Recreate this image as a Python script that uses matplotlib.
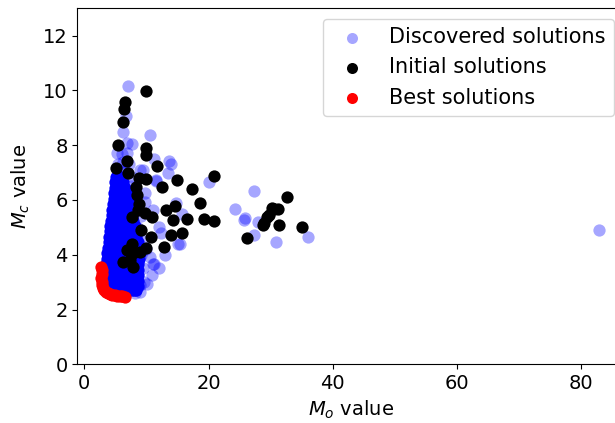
import numpy as np
import matplotlib
matplotlib.use("Agg")
import matplotlib.pyplot as plt

# ---- Discovered solutions: dense core, typed row by row (y value, x values) ----
core_rows = [
    (6.85, [5.1, 5.5, 5.9]),
    (6.65, [5.0, 5.4, 5.8, 6.2]),
    (6.45, [4.9, 5.3, 5.7, 6.1, 6.5]),
    (6.25, [4.8, 5.2, 5.6, 6.0, 6.4, 6.8]),
    (6.05, [4.7, 5.1, 5.5, 5.9, 6.3, 6.7, 7.1]),
    (5.85, [4.6, 5.0, 5.4, 5.8, 6.2, 6.6, 7.0, 7.4]),
    (5.65, [4.5, 4.9, 5.3, 5.7, 6.1, 6.5, 6.9, 7.3]),
    (5.45, [4.4, 4.8, 5.2, 5.6, 6.0, 6.4, 6.8, 7.2, 7.6]),
    (5.25, [4.3, 4.7, 5.1, 5.5, 5.9, 6.3, 6.7, 7.1, 7.5, 7.9]),
    (5.05, [4.2, 4.6, 5.0, 5.4, 5.8, 6.2, 6.6, 7.0, 7.4, 7.8, 8.2]),
    (4.85, [4.1, 4.5, 4.9, 5.3, 5.7, 6.1, 6.5, 6.9, 7.3, 7.7, 8.1, 8.5]),
    (4.65, [4.0, 4.4, 4.8, 5.2, 5.6, 6.0, 6.4, 6.8, 7.2, 7.6, 8.0, 8.4]),
    (4.45, [3.9, 4.3, 4.7, 5.1, 5.5, 5.9, 6.3, 6.7, 7.1, 7.5, 7.9, 8.3, 8.7]),
    (4.25, [3.8, 4.2, 4.6, 5.0, 5.4, 5.8, 6.2, 6.6, 7.0, 7.4, 7.8, 8.2, 8.6]),
    (4.05, [3.7, 4.1, 4.5, 4.9, 5.3, 5.7, 6.1, 6.5, 6.9, 7.3, 7.7, 8.1, 8.5, 8.9]),
    (3.85, [3.6, 4.0, 4.4, 4.8, 5.2, 5.6, 6.0, 6.4, 6.8, 7.2, 7.6, 8.0, 8.4, 8.8]),
    (3.65, [3.5, 3.9, 4.3, 4.7, 5.1, 5.5, 5.9, 6.3, 6.7, 7.1, 7.5, 7.9, 8.3, 8.7]),
    (3.45, [3.4, 3.8, 4.2, 4.6, 5.0, 5.4, 5.8, 6.2, 6.6, 7.0, 7.4, 7.8, 8.2, 8.6]),
    (3.25, [3.4, 3.8, 4.2, 4.6, 5.0, 5.4, 5.8, 6.2, 6.6, 7.0, 7.4, 7.8, 8.2, 8.6]),
    (3.05, [3.5, 3.9, 4.3, 4.7, 5.1, 5.5, 5.9, 6.3, 6.7, 7.1, 7.5, 7.9, 8.3, 8.7]),
    (2.85, [3.8, 4.2, 4.6, 5.0, 5.4, 5.8, 6.2, 6.6, 7.0, 7.4, 7.8, 8.2, 8.6]),
    (2.70, [4.4, 4.8, 5.2, 5.6, 6.0, 6.4, 6.8, 7.2, 7.6, 8.0, 8.4]),
]

# ---- Discovered solutions: scattered points ----
disc_x_extra = [7.1, 6.75, 6.2, 10.6, 6.9, 7.7, 5.2, 6.0, 11.2, 13.7, 14.0, 13.5,
                11.5, 9.0, 20.0, 9.7, 27.3, 14.8, 11.0, 15.7, 24.3, 25.7, 25.9, 28.0,
                27.4, 30.9, 36.0, 82.9, 15.1, 15.4, 13.0, 11.2, 12.0, 9.6, 10.1, 12.0,
                12.3, 9.0, 8.2, 11.1, 9.5, 9.8, 10.9, 8.4, 8.9, 11.6,
                7.5, 8.0, 7.8, 8.5, 9.5, 9.2, 9.5, 10.0, 10.5, 9.2, 8.0, 7.2, 6.8,
                5.5, 6.2, 5.8, 6.5]
disc_y_extra = [10.15, 9.05, 8.5, 8.38, 8.07, 8.05, 7.72, 7.68, 7.5, 7.44, 7.32, 7.0,
                6.7, 7.1, 6.64, 6.24, 6.32, 5.9, 5.63, 5.5, 5.66, 5.27, 5.33, 5.2,
                4.72, 4.45, 4.64, 4.9, 4.41, 4.39, 3.99, 3.67, 3.52, 3.01, 2.95, 5.0,
                4.78, 2.65, 2.6, 3.66, 7.09, 5.93, 3.26, 2.71, 2.9, 6.73,
                6.5, 6.0, 5.5, 5.0, 4.5, 4.0, 3.5, 4.2, 3.9, 5.4, 6.8, 7.3, 7.7,
                7.3, 7.4, 7.1, 7.05]

# ---- Initial solutions ----
init_x = [9.94, 6.55, 6.45, 6.18, 5.48, 10.0, 10.0, 6.93, 5.1, 11.76, 7.09, 8.8,
          10.0, 14.98, 12.46, 8.27, 17.4, 8.43, 8.86, 18.6, 8.7, 13.15, 14.6, 9.78,
          7.63, 10.85, 14.3, 16.6, 19.3, 9.13, 15.7, 13.9, 10.74, 7.63, 12.8, 10.0,
          6.82, 7.9, 8.9, 6.28, 7.9, 7.36, 20.9, 32.6, 20.9, 30.2, 31.2, 29.4,
          28.8, 29.0, 29.8, 30.6, 31.4, 35.0, 26.25]
init_y = [9.99, 9.58, 9.34, 8.85, 8.0, 7.88, 7.64, 7.43, 7.15, 7.24, 6.99, 6.82,
          6.75, 6.73, 6.46, 6.48, 6.4, 6.18, 5.87, 5.9, 5.63, 5.63, 5.78, 5.51,
          5.39, 5.39, 5.27, 5.29, 5.29, 4.9, 4.8, 4.72, 4.66, 4.41, 4.29, 4.23,
          4.17, 4.05, 4.1, 3.74, 3.56, 3.8, 6.88, 6.12, 5.23, 5.69, 5.66, 5.39,
          5.08, 5.15, 5.45, 5.68, 5.08, 5.0, 4.6]

# ---- Best solutions ----
best_x = [2.75, 2.8, 2.85, 2.75, 2.8, 2.9, 3.0, 3.2, 3.5, 3.8, 4.1, 4.5, 4.9,
          5.3, 5.7, 6.1, 6.5]
best_y = [3.55, 3.45, 3.3, 3.15, 3.0, 2.9, 2.8, 2.72, 2.65, 2.6, 2.57, 2.54, 2.52,
          2.5, 2.49, 2.48, 2.47]

core_x = [x for _, xs in core_rows for x in xs]
core_y = [y for y, xs in core_rows for _ in xs]

fig = plt.figure(figsize=(6.15, 4.23), dpi=100)
ax = fig.add_axes([0.1257, 0.1388, 0.890, 0.8416])

ms = 78
# dense core of discovered solutions (overlapping so heavily it renders solid)
ax.scatter(core_x, core_y, s=ms, color="blue", alpha=1.0, linewidths=0,
           label="_nolegend_")
ax.scatter(disc_x_extra, disc_y_extra, s=ms, color="blue", alpha=0.35,
           linewidths=0, label="Discovered solutions")
ax.scatter(init_x, init_y, s=ms, color="black", linewidths=0,
           label="Initial solutions")
ax.scatter(best_x, best_y, s=ms, color="red", linewidths=0,
           label="Best solutions")

ax.set_xlim(-1.13, 87.0)
ax.set_ylim(0, 13.0)
ax.set_xticks([0, 20, 40, 60, 80])
ax.set_yticks([0, 2, 4, 6, 8, 10, 12])
ax.tick_params(labelsize=14)
ax.set_xlabel("$M_o$ value", fontsize=14)
ax.set_ylabel("$M_c$ value", fontsize=14, labelpad=8)

ax.legend(loc="upper right", fontsize=15, markerscale=0.9)

fig.savefig("out.png", dpi=100)
